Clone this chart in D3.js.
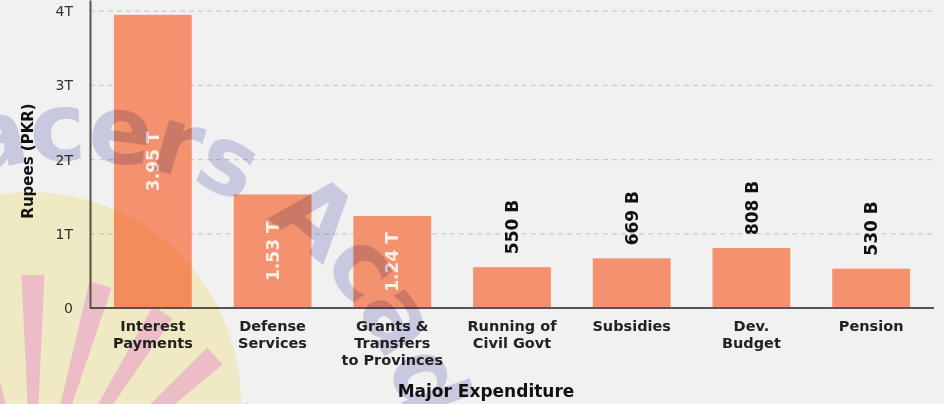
<!DOCTYPE html>
<html>
<head>
<meta charset="utf-8">
<script src="https://cdn.jsdelivr.net/npm/d3@7"></script>
<style>
  body { margin: 0; background: #f1f1f1; }
  svg { display: block; }
  text { font-family: "DejaVu Sans", sans-serif; }
</style>
</head>
<body>
<div id="chart"></div>
<script>
// values in billions of rupees
let categories = ["Interest Payments", "Defense Services", "Grants & Transfers to Provinces",
  "Running of Civil Govt", "Subsidies", "Dev. Budget", "Pension"];
let category_lines = [["Interest", "Payments"], ["Defense", "Services"], ["Grants &", "Transfers", "to Provinces"],
  ["Running of", "Civil Govt"], ["Subsidies"], ["Dev.", "Budget"], ["Pension"]];
let values = [3950, 1530, 1240, 550, 669, 808, 530];
let value_labels = ["3.95 T", "1.53 T", "1.24 T", "550 B", "669 B", "808 B", "530 B"];
let y_ticks = [0, 1000, 2000, 3000, 4000];
let y_tick_labels = ["0", "1T", "2T", "3T", "4T"];

let width = 944, height = 404;
let left = 90, right = 934, bottom = 308;
let bar_color = "#f4916f";

let svg = d3.select("#chart").append("svg")
  .attr("width", width)
  .attr("height", height);

svg.append("rect").attr("width", width).attr("height", height).attr("fill", "#f1f1f1");

let x = d3.scaleBand()
  .domain(categories)
  .range([left, right])
  .paddingInner(0.35)
  .paddingOuter(0.2);

let y = d3.scaleLinear()
  .domain([0, 4150])
  .range([bottom, 0]);

// watermark rays (behind the chart)
let ray_x = 33, ray_y = 520;
let ray_angles = [-32, -16, 0, 16, 32, 48, 64];
let ray = d3.arc().innerRadius(70).outerRadius(245);
svg.append("g")
  .selectAll("path")
  .data(ray_angles)
  .enter().append("path")
  .attr("transform", "translate(" + ray_x + "," + ray_y + ")")
  .attr("d", a => ray({ startAngle: (a - 2.7) * Math.PI / 180, endAngle: (a + 2.7) * Math.PI / 180 }))
  .attr("fill", "#eec3f4");

// dashed grid lines
svg.append("g")
  .selectAll("line")
  .data(y_ticks.filter(d => d > 0))
  .enter().append("line")
  .attr("x1", left).attr("x2", right)
  .attr("y1", d => y(d)).attr("y2", d => y(d))
  .attr("stroke", "#cbcbcb")
  .attr("stroke-width", 1.2)
  .attr("stroke-dasharray", "5,4");

// bars
svg.append("g")
  .selectAll("rect")
  .data(values)
  .enter().append("rect")
  .attr("x", (d, i) => x(categories[i]))
  .attr("y", d => y(d))
  .attr("width", x.bandwidth())
  .attr("height", d => bottom - y(d))
  .attr("fill", bar_color);

// value labels (inside for the large ones, above for the rest)
svg.append("g")
  .selectAll("text")
  .data(values)
  .enter().append("text")
  .attr("transform", function(d, i) {
    let cx = x(categories[i]) + x.bandwidth() / 2;
    let cy = d > 1000 ? (y(d) + bottom) / 2 : y(d) - 13;
    return "translate(" + cx + "," + cy + ") rotate(-90)";
  })
  .attr("dy", "0.36em")
  .attr("text-anchor", d => d > 1000 ? "middle" : "start")
  .attr("fill", d => d > 1000 ? "#fbefe8" : "#111")
  .attr("font-size", 17)
  .attr("font-weight", "bold")
  .text((d, i) => value_labels[i]);

// y axis
let yAxis = d3.axisLeft(y)
  .tickValues(y_ticks)
  .tickSize(0)
  .tickPadding(17)
  .tickFormat((d, i) => y_tick_labels[i]);

let gy = svg.append("g")
  .attr("transform", "translate(" + left + ",0)")
  .call(yAxis);
gy.select(".domain").attr("stroke", "#555").attr("stroke-width", 2);
gy.selectAll(".tick text").attr("font-size", 14).attr("fill", "#333")
  .attr("font-family", "DejaVu Sans, sans-serif");

// x axis line
svg.append("line")
  .attr("x1", left).attr("x2", right)
  .attr("y1", bottom).attr("y2", bottom)
  .attr("stroke", "#555").attr("stroke-width", 2);

// category labels
let cat = svg.append("g")
  .selectAll("text")
  .data(categories)
  .enter().append("text")
  .attr("x", d => x(d) + x.bandwidth() / 2)
  .attr("y", 331)
  .attr("text-anchor", "middle")
  .attr("font-size", 14.5)
  .attr("font-weight", "bold")
  .attr("fill", "#222");
cat.selectAll("tspan")
  .data((d, i) => category_lines[i])
  .enter().append("tspan")
  .attr("x", function() { return this.parentNode.getAttribute("x"); })
  .attr("dy", (d, i) => i == 0 ? 0 : 17)
  .text(d => d);

// axis titles
svg.append("text")
  .attr("x", 486).attr("y", 397)
  .attr("text-anchor", "middle")
  .attr("font-size", 17)
  .attr("font-weight", "bold")
  .attr("fill", "#111")
  .text("Major Expenditure");

svg.append("text")
  .attr("transform", "translate(33,161) rotate(-90)")
  .attr("text-anchor", "middle")
  .attr("font-size", 15)
  .attr("font-weight", "bold")
  .attr("fill", "#111")
  .text("Rupees (PKR)");

// watermark on top: yellow sun disc and curved text, multiplied over the chart
svg.append("circle")
  .style("mix-blend-mode", "multiply")
  .attr("cx", 30).attr("cy", 403).attr("r", 211)
  .attr("fill", "#fdf8d0");

let tr = 345, tcx = 72, tcy = 505;
let a0 = -29 * Math.PI / 180, a1 = 110 * Math.PI / 180;
svg.append("defs").append("path")
  .attr("id", "wm-arc")
  .attr("d", "M" + (tcx + tr * Math.sin(a0)) + "," + (tcy - tr * Math.cos(a0)) +
    " A" + tr + "," + tr + " 0 0 1 " + (tcx + tr * Math.sin(a1)) + "," + (tcy - tr * Math.cos(a1)));

svg.append("text")
  .style("mix-blend-mode", "multiply")
  .attr("font-size", 95)
  .attr("font-weight", "bold")
  .attr("letter-spacing", -2)
  .attr("fill", "#d4d4ec")
  .append("textPath")
  .attr("href", "#wm-arc")
  .text("Racers Academy");
</script>
</body>
</html>
